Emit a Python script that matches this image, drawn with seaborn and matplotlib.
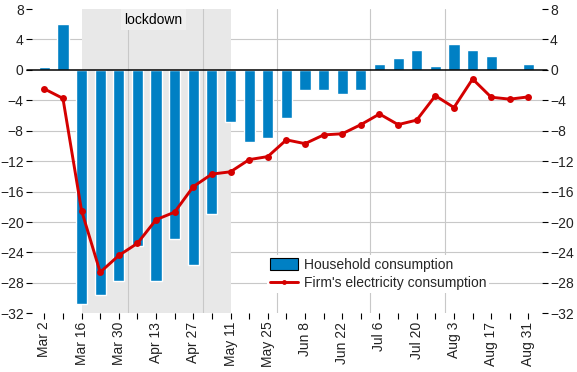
import numpy as np
import pandas as pd
import seaborn as sns
import matplotlib.pyplot as plt
from matplotlib.patches import Patch
from matplotlib.lines import Line2D

weeks = ['Mar 2', 'Mar 9', 'Mar 16', 'Mar 23', 'Mar 30', 'Apr 6', 'Apr 13', 'Apr 20', 'Apr 27',
         'May 4', 'May 11', 'May 18', 'May 25', 'Jun 1', 'Jun 8', 'Jun 15', 'Jun 22', 'Jun 29',
         'Jul 6', 'Jul 13', 'Jul 20', 'Jul 27', 'Aug 3', 'Aug 10', 'Aug 17', 'Aug 24', 'Aug 31']
household = [0.4, 6.0, -30.8, -29.6, -27.8, -23.2, -27.8, -22.2, -25.7, -19.0, -6.9, -9.5, -8.9,
             -6.3, -2.7, -2.7, -3.2, -2.7, 0.8, 1.6, 2.6, 0.5, 3.4, 2.6, 1.85, 0.0, 0.8]
firm_elec = [-2.5, -3.75, -18.5, -26.6, -24.4, -22.8, -19.7, -18.7, -15.35, -13.7, -13.4, -11.8,
             -11.4, -9.2, -9.7, -8.55, -8.4, -7.2, -5.8, -7.2, -6.6, -3.4, -4.95, -1.2, -3.6,
             -3.85, -3.55]
yticks = [8, 4, 0, -4, -8, -12, -16, -20, -24, -28, -32]
month_breaks = [4.5, 8.5, 12.5, 17.5, 21.5]
lockdown = (2, 10)

df = pd.DataFrame({'week': weeks, 'household': household, 'firm': firm_elec})
df['pos'] = np.arange(len(df))

sns.set_style('white')
plt.rcParams['font.family'] = ['Liberation Sans', 'DejaVu Sans']

blue = '#0080c4'
red = '#d40000'
grid = '#c8c8c8'

fig = plt.figure(figsize=(5.77, 3.72), dpi=100)
ax = fig.add_axes([0.0555, 0.1578, 0.8833, 0.818])

# shading + grid
ax.axvspan(lockdown[0], lockdown[1], color='#e8e8e8', zorder=0.2, lw=0)
for y in yticks[1:-1]:
    if y != 0:
        ax.axhline(y, color=grid, lw=0.8, zorder=0.1)
for x in month_breaks:
    ax.axvline(x, color=grid, lw=0.8, zorder=0.3)

sns.barplot(data=df, x='week', y='household', color=blue, width=0.6, saturation=1,
            ax=ax, zorder=2)
sns.lineplot(data=df, x='pos', y='firm', color=red, lw=2.1, marker='o', markersize=5,
             markeredgewidth=0, ax=ax, zorder=3)

ax.axhline(0, xmin=-0.01, xmax=1.01, color='black', lw=1.1, zorder=2.5, clip_on=False)

ax.set_xlim(-0.66, 26.71)
ax.set_ylim(-32, 8)
ax.set_yticks(yticks)
ax.set_xticks(df['pos'])
ax.set_xticklabels([w if i % 2 == 0 else '' for i, w in enumerate(weeks)], rotation=90)
ax.set_xlabel('')
ax.set_ylabel('')
for s in ax.spines.values():
    s.set_visible(False)
ax.tick_params(axis='both', length=4, width=0.8, color='black', labelsize=10,
               labelcolor='#222222', pad=2, direction='out')
ax.tick_params(axis='y', left=True, right=True, labelleft=True, labelright=True)
ax.tick_params(axis='x', bottom=True)

ax.text(5.85, 6.6, 'lockdown', ha='center', va='center', fontsize=10, color='black',
        bbox=dict(facecolor='#efefef', edgecolor='none', pad=2.5), zorder=4)

handles = [Patch(facecolor=blue, edgecolor='black', lw=0.8),
           Line2D([], [], color=red, lw=2.1, marker='o', markersize=3.5, markeredgewidth=0)]
leg = ax.legend(handles, ['Household consumption', "Firm's electricity consumption"],
                loc='upper left', bbox_to_anchor=(0.4627, 0.3145),
                bbox_transform=fig.transFigure, frameon=True, fancybox=False,
                facecolor='white', edgecolor='none', framealpha=1, fontsize=10,
                borderpad=0.2, borderaxespad=0, labelspacing=0.3, handlelength=2.0,
                handletextpad=0.45, handleheight=0.9)
leg.set_zorder(5)

fig.savefig('out.png', dpi=100)
